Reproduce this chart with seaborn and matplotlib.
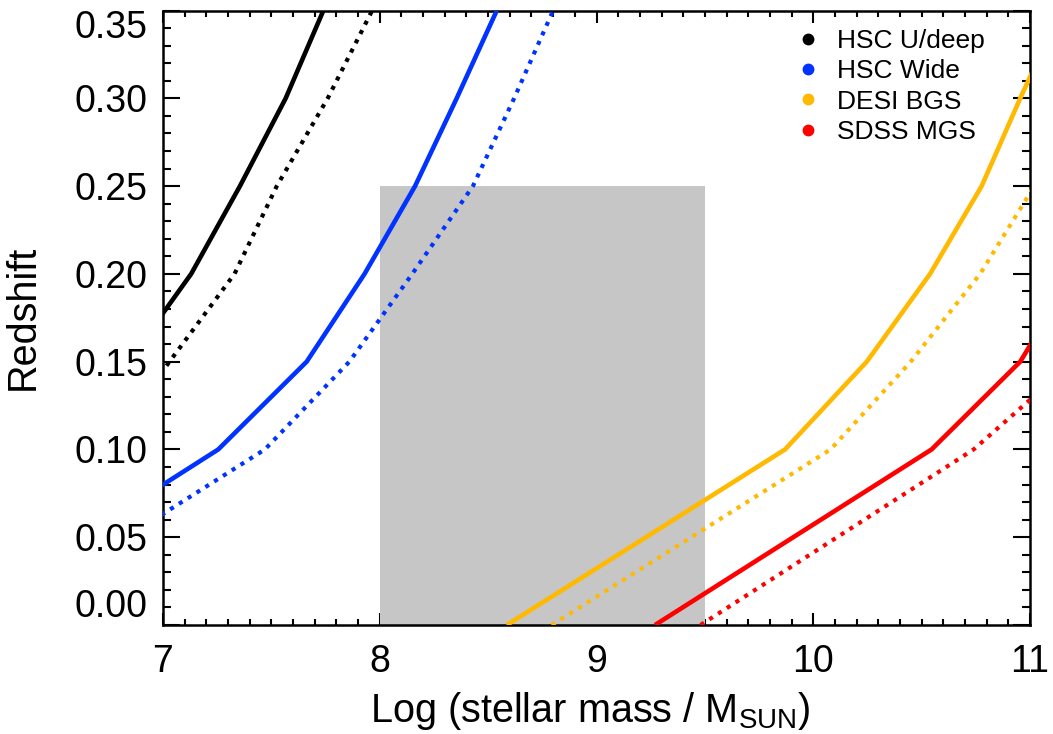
import numpy as np
import pandas as pd
import matplotlib
matplotlib.use("Agg")
import matplotlib.pyplot as plt
from matplotlib.lines import Line2D
from matplotlib.ticker import MultipleLocator
import seaborn as sns

# Redshift grid on which the stellar-mass completeness limits are tabulated
redshift = [0.00, 0.05, 0.10, 0.15, 0.20, 0.25, 0.30, 0.35]

# log10(M*/Msun) limits: solid = main limit, dotted = alternative limit
nan = np.nan
hsc_deep_solid = [nan, nan, nan, 6.84, 7.13, 7.355, 7.566, 7.74]
hsc_deep_dotted = [nan, nan, 6.73, 7.03, 7.33, 7.525, 7.76, 7.965]
hsc_wide_solid = [nan, 6.62, 7.255, 7.663, 7.93, 8.163, 8.355, 8.54]
hsc_wide_dotted = [nan, 6.83, 7.47, 7.86, 8.15, 8.43, 8.62, 8.80]
desi_bgs_solid = [8.586, 9.228, 9.87, 10.247, 10.539, 10.777, 10.955, 11.14]
desi_bgs_dotted = [8.793, 9.437, 10.08, 10.45, 10.77, 11.02, 11.25, nan]
sdss_mgs_solid = [9.27, 9.908, 10.546, 10.955, 11.2, nan, nan, nan]
sdss_mgs_dotted = [9.48, 10.11, 10.74, 11.2, nan, nan, nan, nan]

surveys = ["HSC U/deep", "HSC Wide", "DESI BGS", "SDSS MGS"]
colors = ["#000000", "#0033FF", "#FFB900", "#FF0000"]

# Shaded region: target mass / redshift range
box_mass = (8.0, 9.5)
box_zmax = 0.25

x_ticks = [7, 8, 9, 10, 11]
y_ticks = [0.00, 0.05, 0.10, 0.15, 0.20, 0.25, 0.30, 0.35]
y_ticklabels = ["0.00", "0.05", "0.10", "0.15", "0.20", "0.25", "0.30", "0.35"]

curves = {
    ("HSC U/deep", "solid"): hsc_deep_solid,
    ("HSC U/deep", "dotted"): hsc_deep_dotted,
    ("HSC Wide", "solid"): hsc_wide_solid,
    ("HSC Wide", "dotted"): hsc_wide_dotted,
    ("DESI BGS", "solid"): desi_bgs_solid,
    ("DESI BGS", "dotted"): desi_bgs_dotted,
    ("SDSS MGS", "solid"): sdss_mgs_solid,
    ("SDSS MGS", "dotted"): sdss_mgs_dotted,
}
rows = []
for (name, kind), masses in curves.items():
    for z, m in zip(redshift, masses):
        if not np.isnan(m):
            rows.append({"mass": m, "z": z, "survey": name, "limit": kind})
df = pd.DataFrame(rows)

sns.set_style("ticks")
plt.rcParams["font.family"] = ["Liberation Sans", "DejaVu Sans"]
plt.rcParams["mathtext.fontset"] = "custom"
plt.rcParams["mathtext.rm"] = "Liberation Sans"
plt.rcParams["mathtext.it"] = "Liberation Sans:italic"
plt.rcParams["text.color"] = "black"
plt.rcParams["axes.labelcolor"] = "black"
plt.rcParams["xtick.labelcolor"] = "black"
plt.rcParams["ytick.labelcolor"] = "black"

fig = plt.figure(figsize=(10.53, 7.34), dpi=100)
ax = fig.add_axes([163 / 1053, 1 - 625 / 734, 867 / 1053, 614.5 / 734])

ax.fill_between(list(box_mass), 0, box_zmax, color="#C6C6C6", lw=0, zorder=1)

sns.lineplot(
    data=df, x="mass", y="z", hue="survey", style="limit",
    hue_order=surveys, palette=colors,
    style_order=["solid", "dotted"], dashes={"solid": "", "dotted": (1, 1.5)},
    estimator=None, sort=True, legend=False, linewidth=3.3, ax=ax, zorder=3,
)
for ln in ax.lines:
    ln.set_solid_capstyle("butt")
    ln.set_dash_capstyle("butt")
    if ln.get_linestyle() != "-":
        ln.set_linewidth(3.0)

ax.set_xlim(7, 11)
ax.set_ylim(0, 0.35)
ax.set_xticks(x_ticks)
ax.set_xticklabels([str(t) for t in x_ticks])
ax.set_yticks(y_ticks)
ax.set_yticklabels(y_ticklabels)
ax.xaxis.set_minor_locator(MultipleLocator(0.1))
ax.yaxis.set_minor_locator(MultipleLocator(0.01))

for side in ax.spines.values():
    side.set_linewidth(1.8)
    side.set_color("black")
    side.set_visible(True)

ax.tick_params(axis="both", which="both", direction="in", top=True, right=True,
               color="black", width=1.5, labelcolor="black")
ax.tick_params(axis="y", which="major", length=12.2, labelsize=27, pad=11)
ax.tick_params(axis="y", which="minor", length=6.1)
ax.tick_params(axis="x", which="major", length=8.6, labelsize=27, pad=14)
ax.tick_params(axis="x", which="minor", length=4.3)

ylabels = ax.get_yticklabels()
ylabels[0].set_verticalalignment("bottom")
ylabels[-1].set_verticalalignment("top")

ax.set_xlabel(r"Log (stellar mass / M$_{\rm SUN}$)", fontsize=28.5, color="black")
ax.set_ylabel("Redshift", fontsize=28.5, color="black")
ax.xaxis.set_label_coords(0.493, -0.105)
ax.yaxis.set_label_coords(-0.14, 0.5)

handles = [Line2D([], [], ls="none", marker="o", ms=7.5, color=c, mec=c) for c in colors]
leg = ax.legend(handles, surveys, loc="upper left", bbox_to_anchor=(0.732, 0.97),
                frameon=False, fontsize=19, handlelength=0.8, handletextpad=0.7,
                labelspacing=0.24, borderpad=0, borderaxespad=0)
for t in leg.get_texts():
    t.set_color("black")

fig.savefig("out.png", dpi=100, facecolor="white")
